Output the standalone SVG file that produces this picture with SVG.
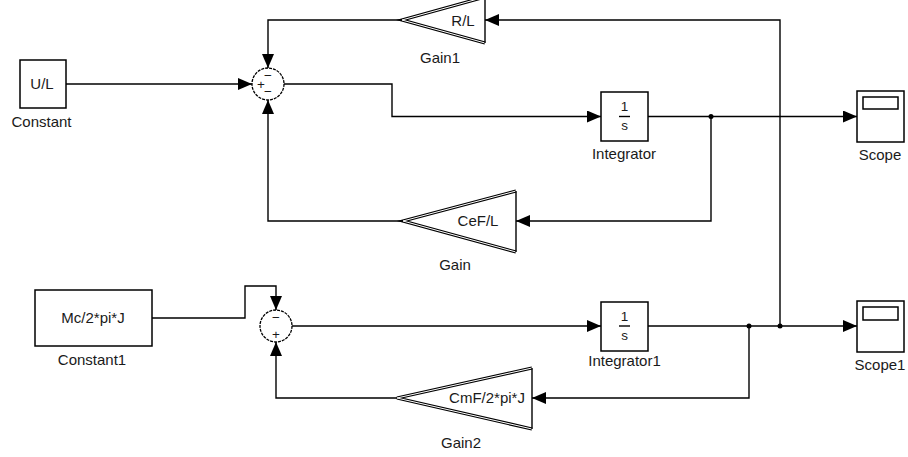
<svg xmlns="http://www.w3.org/2000/svg" width="908" height="457" viewBox="0 0 908 457">
<defs>
<marker id="arr" markerUnits="userSpaceOnUse" markerWidth="14" markerHeight="12" refX="14" refY="6" orient="auto">
<path d="M0,0 L14,6 L0,12 Z" fill="#000"/>
</marker>
<style>
.blk{fill:#fff;stroke:#000;stroke-width:1.5}
.w{fill:none;stroke:#000;stroke-width:1.4}
.t{font-family:"Liberation Sans",Arial,sans-serif;font-size:15px;fill:#1a1a1a;text-anchor:middle}
.s{font-family:"Liberation Sans",Arial,sans-serif;font-size:13.5px;fill:#1a1a1a;text-anchor:middle}
.g2{fill:none;stroke:#000;stroke-width:3.2}
.g1{fill:none;stroke:#fff;stroke-width:1}
.sum{fill:#fff;stroke:#000;stroke-width:1.3;stroke-dasharray:3 1}
</style>
</defs>
<rect width="908" height="457" fill="#fff"/>

<g id="connectors">
<path class="w" d="M66,84 H252" marker-end="url(#arr)"/>
<path class="w" d="M402,20 H268 V68" marker-end="url(#arr)"/>
<path class="w" d="M284,84 H392 V116.5 H601" marker-end="url(#arr)"/>
<path class="w" d="M648,116.5 H857" marker-end="url(#arr)"/>
<path class="w" d="M711,116.5 V221 H516" marker-end="url(#arr)"/>
<path class="w" d="M403,221 H268 V100" marker-end="url(#arr)"/>
<path class="w" d="M152,318 H245 V286 H276 V310" marker-end="url(#arr)"/>
<path class="w" d="M397,398 H276 V342" marker-end="url(#arr)"/>
<path class="w" d="M292,326 H601" marker-end="url(#arr)"/>
<path class="w" d="M648,326 H857" marker-end="url(#arr)"/>
<path class="w" d="M749,326 V398 H532" marker-end="url(#arr)"/>
<path class="w" d="M780,326 V20 H485" marker-end="url(#arr)"/>
<circle cx="711" cy="116.5" r="2.5" fill="#000"/>
<circle cx="749" cy="326" r="2.5" fill="#000"/>
<circle cx="780" cy="326" r="2.5" fill="#000"/>
</g>

<g id="Constant">
<rect class="blk" x="20" y="60" width="46" height="48"/>
<text class="t" x="42" y="89">U/L</text>
<text class="t" x="41.5" y="127">Constant</text>
</g>

<g id="Sum">
<circle class="sum" cx="268" cy="84" r="16"/>
<text class="s" x="268" y="80">−</text>
<text class="s" x="261" y="89">+</text>
<text class="s" x="268" y="96">−</text>
</g>

<g id="Gain1">
<path class="g2" d="M485,-3 L402,20 L485,43"/>
<path class="g1" d="M485,-3 L402,20 L485,43"/>
<path class="w" d="M485,-3 V43"/>
<text class="t" x="463" y="26">R/L</text>
<text class="t" x="440" y="63">Gain1</text>
</g>

<g id="Integrator">
<rect class="blk" x="601" y="92" width="47" height="49"/>
<text class="s" x="624.5" y="111">1</text>
<path class="w" d="M619,116.5 H630"/>
<text class="s" x="624.5" y="130">s</text>
<text class="t" x="624" y="159">Integrator</text>
</g>

<g id="Scope">
<rect class="blk" x="857" y="91" width="47" height="51"/>
<rect class="blk" x="863" y="97" width="35" height="12"/>
<text class="t" x="880" y="160">Scope</text>
</g>

<g id="Gain">
<path class="g2" d="M516,191 L403,221 L516,252"/>
<path class="g1" d="M516,191 L403,221 L516,252"/>
<path class="w" d="M516,191 V252"/>
<text class="t" x="478" y="226">CeF/L</text>
<text class="t" x="455" y="270">Gain</text>
</g>

<g id="Constant1">
<rect class="blk" x="35" y="290" width="117" height="56"/>
<text class="t" x="93" y="323">Mc/2*pi*J</text>
<text class="t" x="92" y="365">Constant1</text>
</g>

<g id="Sum1">
<circle class="sum" cx="276" cy="326" r="16"/>
<text class="s" x="276" y="322">−</text>
<text class="s" x="276" y="339">+</text>
</g>

<g id="Integrator1">
<rect class="blk" x="601" y="302" width="47" height="49"/>
<text class="s" x="624.5" y="321">1</text>
<path class="w" d="M619,326 H630"/>
<text class="s" x="624.5" y="340">s</text>
<text class="t" x="624.5" y="366">Integrator1</text>
</g>

<g id="Scope1">
<rect class="blk" x="857" y="301" width="47" height="51"/>
<rect class="blk" x="863" y="307" width="35" height="13"/>
<text class="t" x="880" y="370">Scope1</text>
</g>

<g id="Gain2">
<path class="g2" d="M532,368 L397,398 L532,429"/>
<path class="g1" d="M532,368 L397,398 L532,429"/>
<path class="w" d="M532,368 V429"/>
<text class="t" x="487" y="403">CmF/2*pi*J</text>
<text class="t" x="461" y="448">Gain2</text>
</g>
</svg>
